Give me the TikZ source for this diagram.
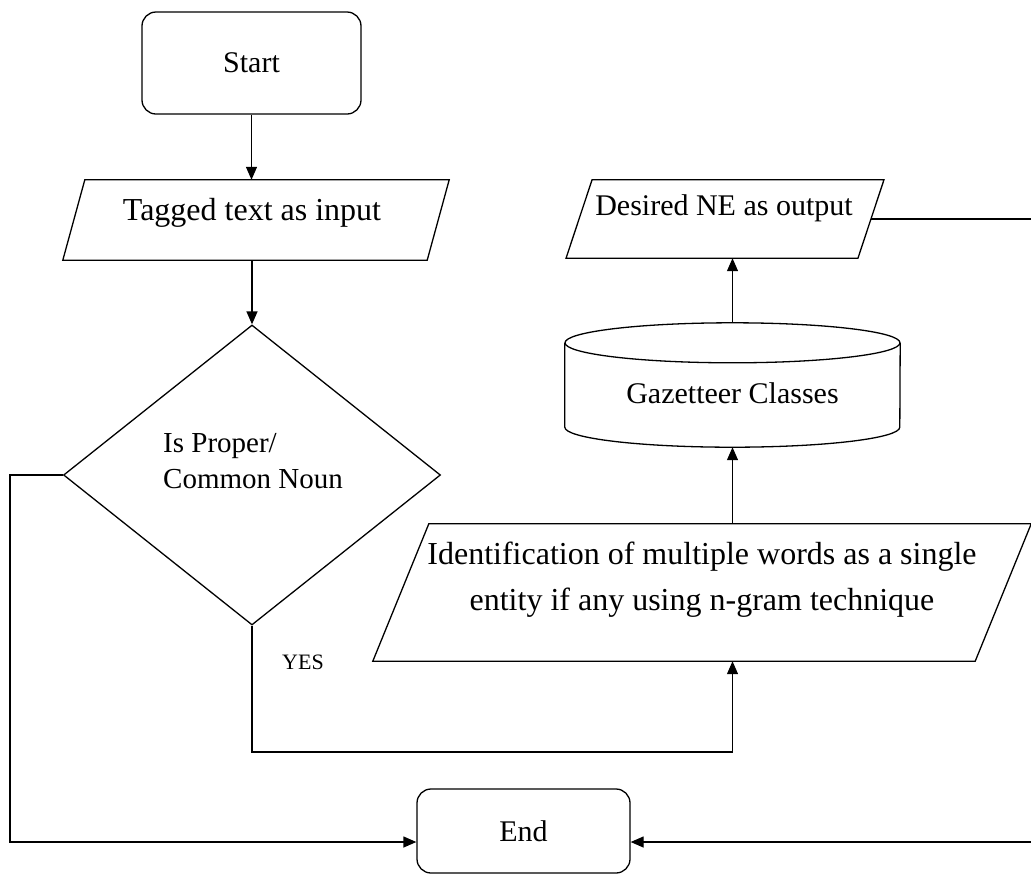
\documentclass[tikz,border=0pt]{standalone}
\usepackage{fontspec}
\setmainfont{Liberation Serif}
\usetikzlibrary{shapes.geometric,arrows.meta}
\tikzset{
  startstop/.style={draw,rounded corners=14pt,line width=1.3pt,inner sep=0pt},
  io/.style={rectangle,inner sep=0pt},
  decision/.style={draw,diamond,line width=1.3pt},
  txt/.style={inner sep=0pt,font=\fontsize{30}{36}\selectfont},
  arr/.style={line width=1.3pt,-{Triangle[length=13pt,width=11pt]}}
}
\newcommand{\slantbox}[2]{%
  \draw[line width=1.3pt] ([xshift=#2pt]#1.north west) -- ([xshift=#2pt]#1.north east)
    -- ([xshift=-#2pt]#1.south east) -- ([xshift=-#2pt]#1.south west) -- cycle;}
\begin{document}
\begin{tikzpicture}[x=1pt,y=-1pt]
  \useasboundingbox (0,0) rectangle (1031,876);
  \node[startstop,txt,minimum width=219pt,minimum height=102pt] (start) at (251.5,63) {Start};
  \node[io,minimum width=364pt,minimum height=80pt] (tagged) at (256,220) {};
  \slantbox{tagged}{11}
  \node[txt,font=\fontsize{32}{38}\selectfont] (taggedtxt) at (252,213) {Tagged text as input};
  \node[decision,minimum width=377pt,minimum height=300pt] (dec) at (252,475) {};
  \node[txt,align=left,anchor=west,font=\fontsize{29}{36}\selectfont] (dectxt) at (163,461) {Is Proper/\\Common Noun};
  \node[txt,font=\fontsize{22}{26}\selectfont] (yes) at (303,662) {YES};
  \node[io,minimum width=602pt,minimum height=137pt] (ident) at (702,592.5) {};
  \slantbox{ident}{28}
  \node[txt,align=center,font=\fontsize{32}{46}\selectfont] (identtxt) at (702,580) {Identification of multiple words as a single\\entity if any using n-gram technique};
  \node[minimum width=335pt,minimum height=124pt,inner sep=0pt] (gaz) at (732.5,385) {};
  \pgfmathsetmacro{\rx}{167.5}
  \pgfmathsetmacro{\ry}{20}
  \draw[line width=1.3pt] ([yshift=-\ry pt]gaz.north) ellipse [x radius=\rx pt, y radius=\ry pt];
  \draw[line width=1.3pt] ([yshift=-\ry pt]gaz.north west) -- ([yshift=\ry pt]gaz.south west)
    arc [start angle=180, end angle=360, x radius=\rx pt, y radius=\ry pt] -- ([yshift=-\ry pt]gaz.north east);
  \node[txt] (gaztxt) at (732.5,393) {Gazetteer Classes};
  \node[io,minimum width=291.5pt,minimum height=78pt] (out) at (725,219) {};
  \slantbox{out}{13}
  \node[txt] (outtxt) at (724,208) {Desired NE as output};
  \node[startstop,txt,minimum width=213pt,minimum height=84pt] (endbox) at (523.5,831) {End};
  \coordinate (leftrail) at (10,0);
  \coordinate (rightrail) at (1038,0);
  \coordinate (yesrow) at (0,752);
  \draw[arr] (start.south) -- (start.south |- tagged.north);
  \draw[arr] (tagged.south -| dec.north) -- (dec.north);
  \draw[arr] (dec.west) -- (dec.west -| leftrail) |- ([yshift=-11pt]endbox.west);
  \draw[arr] (dec.south) |- (yesrow -| gaz.south) -- (ident.south -| gaz.south);
  \draw[arr] (ident.north -| gaz.south) -- (gaz.south);
  \draw[arr] (gaz.north) -- (gaz.north |- out.south);
  \draw[line width=2.4pt] (out.east) -- (out.east -| rightrail);
  \draw[arr] (out.east -| rightrail) |- ([yshift=-11pt]endbox.east);
\end{tikzpicture}
\end{document}
